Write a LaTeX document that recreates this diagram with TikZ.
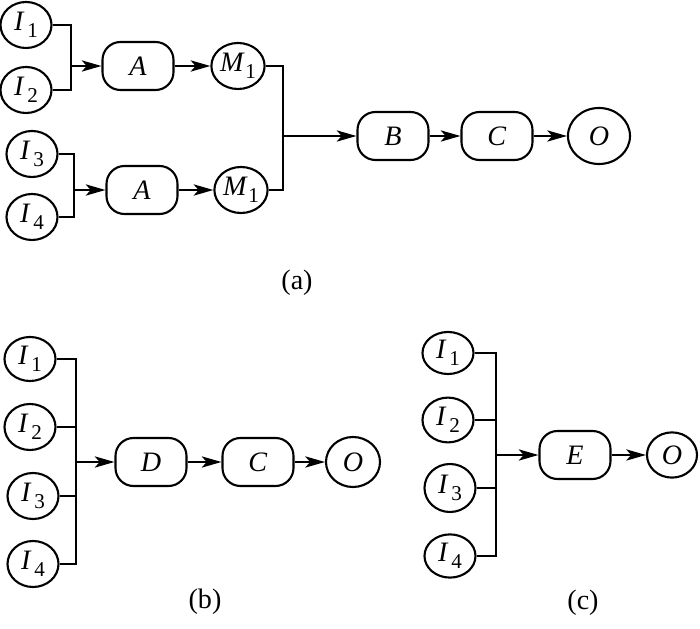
\documentclass[tikz,border=0pt]{standalone}
\usepackage{fontspec}
\setmainfont{Liberation Serif}
\usetikzlibrary{arrows.meta,shapes.geometric}
\newcommand{\lbl}[3][2pt]{\textit{#2}\kern#1\raisebox{-5pt}{\fontsize{15}{15}\selectfont #3}}
\tikzset{
	bignum/.style={font=\fontsize{20}{20}\selectfont},
	inp/.style={draw,ellipse,line width=1.5pt,inner sep=0pt,minimum width=1.275cm,minimum height=1.15cm,bignum},
	blk/.style={draw,rectangle,rounded corners=0.45cm,line width=1.5pt,inner sep=0pt,minimum width=1.775cm,minimum height=1.2cm,bignum},
	wire/.style={line width=1.5pt},
	flow/.style={line width=1.5pt,-{Stealth[length=14pt,width=8pt,inset=3.5pt]}}
}

\begin{document}
\begin{tikzpicture}[x=0.025cm,y=-0.025cm]
					\useasboundingbox (0,0) rectangle (700,629);
					\node[inp] (ia1) at (26,25) {\lbl{I}{1}};
					\node[inp] (ia2) at (26,90) {\lbl{I}{2}};
					\node[inp] (ia3) at (32,154) {\lbl{I}{3}};
					\node[inp] (ia4) at (32,217) {\lbl{I}{4}};
					\node[blk] (aa) at (138,66) {\textit{A}};
					\node[blk] (ab) at (142,190) {\textit{A}};
					\node[inp,minimum width=1.33cm] (ma) at (238,66) {\lbl[0.3pt]{M}{1}};
					\node[inp,minimum width=1.33cm] (mb) at (241,190) {\lbl[0.3pt]{M}{1}};
					\node[blk] (ba) at (393,136) {\textit{B}};
					\node[blk] (ca) at (497,136) {\textit{C}};
					\node[inp,minimum width=1.55cm,minimum height=1.4cm] (oa) at (599,136) {\textit{O}};
					\coordinate (ja) at (71,66);
					\coordinate (jb) at (74,190);
					\coordinate (jm) at (283,136);
					\draw[wire] (ia1.east) -| (ja) |- (ia2.east);
					\draw[wire] (ia3.east) -| (jb) |- (ia4.east);
					\draw[flow] (ja) -- (aa.west);
					\draw[flow] (jb) -- (ab.west);
					\draw[flow] (aa.east) -- (ma.west);
					\draw[flow] (ab.east) -- (mb.west);
					\draw[wire] (ma.east) -| (jm) |- (mb.east);
					\draw[flow] (jm) -- (ba.west);
					\draw[flow] (ba.east) -- (ca.west);
					\draw[flow] (ca.east) -- (oa.west);
					\node[bignum] (capa) at (297,283) {(a)};

					\node[inp,minimum height=1.1cm] (ib1) at (30,359) {\lbl{I}{1}};
					\node[inp] (ib2) at (30,427) {\lbl{I}{2}};
					\node[inp] (ib3) at (33,496) {\lbl{I}{3}};
					\node[inp] (ib4) at (33,564) {\lbl{I}{4}};
					\node[blk] (db) at (151,462) {\textit{D}};
					\node[blk] (cb) at (258,462) {\textit{C}};
					\node[inp,minimum width=1.35cm,minimum height=1.25cm] (ob) at (353,462) {\textit{O}};
					\coordinate (kb) at (76,462);
					\draw[wire] (ib1.east) -| (kb) |- (ib4.east);
					\draw[wire] (ib2.east) -- (ib2.east -| kb);
					\draw[wire] (ib3.east) -- (ib3.east -| kb);
					\draw[flow] (kb) -- (db.west);
					\draw[flow] (db.east) -- (cb.west);
					\draw[flow] (cb.east) -- (ob.west);
					\node[bignum] (capb) at (205,602) {(b)};

					\node[inp,minimum height=1.05cm] (ic1) at (448,353) {\lbl{I}{1}};
					\node[inp,minimum height=1.12cm] (ic2) at (448,420) {\lbl{I}{2}};
					\node[inp,minimum height=1.2cm] (ic3) at (450,488) {\lbl{I}{3}};
					\node[inp,minimum height=1.08cm] (ic4) at (450,556) {\lbl{I}{4}};
					\node[blk] (ec) at (575,455) {\textit{E}};
					\node[inp,minimum width=1.25cm,minimum height=1.13cm] (oc) at (672,455) {\textit{O}};
					\coordinate (kc) at (496,455);
					\draw[wire] (ic1.east) -| (kc) |- (ic4.east);
					\draw[wire] (ic2.east) -- (ic2.east -| kc);
					\draw[wire] (ic3.east) -- (ic3.east -| kc);
					\draw[flow] (kc) -- (ec.west);
					\draw[flow] (ec.east) -- (oc.west);
					\node[bignum] (capc) at (583,603) {(c)};
				\end{tikzpicture}
\end{document}
